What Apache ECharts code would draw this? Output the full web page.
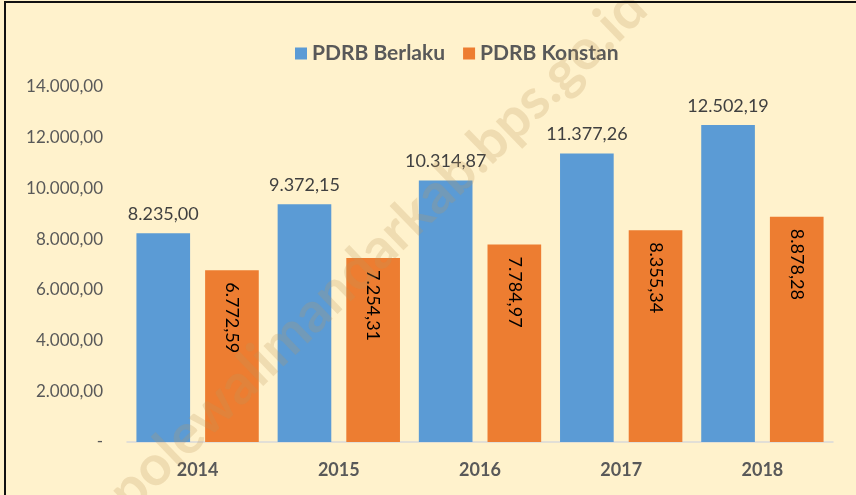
<!DOCTYPE html>
<html>
<head>
<meta charset="utf-8">
<script src="https://cdn.jsdelivr.net/npm/echarts@6/dist/echarts.min.js"></script>
<style>
  html, body { margin: 0; padding: 0; background: #fff; }
  #chart { position: absolute; left: 0; top: 0; width: 856px; height: 495px; }
  #frame {
    position: absolute; left: 4px; top: 1px; width: 852px; height: 494px;
    border-left: 2px solid #111; border-top: 2px solid #111;
    box-sizing: border-box; pointer-events: none;
  }
</style>
</head>
<body>
<div id="chart"></div>
<div id="frame"></div>
<script>
const years = ['2014', '2015', '2016', '2017', '2018']
const berlaku = [8235.00, 9372.15, 10314.87, 11377.26, 12502.19]
const konstan = [6772.59, 7254.31, 7784.97, 8355.34, 8878.28]
const yMax = 14000
const yStep = 2000

const fmtNum = (v) => {
    const parts = Number(v).toFixed(2).split('.')
    return parts[0].replace(/\B(?=(\d{3})+(?!\d))/g, '.') + ',' + parts[1]
}

const chart = echarts.init(document.getElementById('chart'))
chart.setOption({
    backgroundColor: '#FFF2CC',
    textStyle: { fontFamily: 'Lato, "Open Sans", sans-serif' },
    legend: {
        top: 38,
        left: 290,
        itemWidth: 12,
        itemHeight: 12,
        itemGap: 18,
        icon: 'rect',
        textStyle: { fontSize: 21, fontWeight: 'bold', color: '#595959' },
        data: ['PDRB Berlaku', 'PDRB Konstan'],
    },
    grid: { left: 127, right: 23, top: 87, bottom: 53 },
    xAxis: {
        type: 'category',
        data: years,
        axisTick: { show: false },
        axisLine: { lineStyle: { color: '#d9d9d9', width: 1.5 } },
        axisLabel: { fontSize: 18, fontWeight: 'bold', color: '#595959', margin: 19 },
    },
    yAxis: {
        type: 'value',
        min: 0,
        max: yMax,
        interval: yStep,
        splitLine: { show: false },
        axisLine: { show: false },
        axisTick: { show: false },
        axisLabel: {
            fontSize: 17,
            color: '#595959',
            margin: 24,
            formatter: (v) => (v === 0 ? '-' : fmtNum(v)),
        },
    },
    series: [
        {
            name: 'PDRB Berlaku',
            type: 'bar',
            data: berlaku,
            barWidth: '38%',
            barGap: '28%',
            itemStyle: { color: '#5B9BD5' },
            label: {
                show: true,
                position: 'top',
                distance: 10,
                fontSize: 18,
                color: '#404040',
                formatter: (p) => fmtNum(p.value),
            },
        },
        {
            name: 'PDRB Konstan',
            type: 'bar',
            data: konstan,
            barWidth: '38%',
            itemStyle: { color: '#ED7D31' },
            label: {
                show: true,
                position: 'insideTop',
                rotate: -90,
                align: 'left',
                verticalAlign: 'middle',
                distance: 12,
                fontSize: 18,
                color: '#000',
                formatter: (p) => fmtNum(p.value),
            },
        },
    ],
    graphic: [
        {
            type: 'text',
            x: 378,
            y: 250,
            rotation: 44 * Math.PI / 180,
            z: 100,
            silent: true,
            style: {
                text: 'polewalimandarkab.bps.go.id',
                fontSize: 56,
                fontWeight: 'bold',
                fontFamily: 'Lato, sans-serif',
                fill: 'rgba(190, 150, 90, 0.24)',
                align: 'center',
                verticalAlign: 'middle',
            },
        },
    ],
})
</script>
</body>
</html>
